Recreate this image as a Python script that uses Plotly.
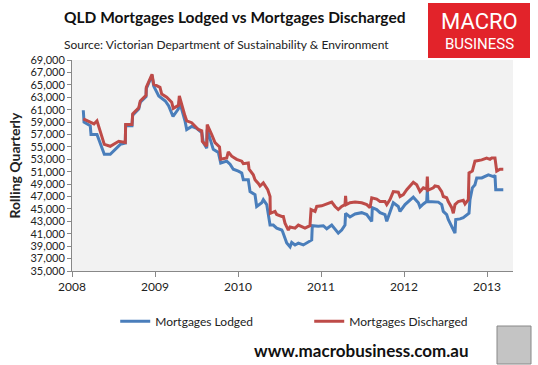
import plotly.graph_objects as go

# decimal-year positions and values
lodged_t = [2008.136, 2008.145, 2008.220, 2008.229, 2008.301, 2008.389, 2008.461, 2008.534, 2008.582, 2008.642,
            2008.646, 2008.723, 2008.731, 2008.804, 2008.823, 2008.892, 2008.895, 2008.964, 2008.984, 2009.045,
            2009.124, 2009.165, 2009.217, 2009.281, 2009.293, 2009.361, 2009.382, 2009.442, 2009.502, 2009.563,
            2009.582, 2009.623, 2009.629, 2009.702, 2009.763, 2009.792, 2009.864, 2009.904, 2009.943, 2010.004,
            2010.045, 2010.064, 2010.124, 2010.145, 2010.205, 2010.225, 2010.286, 2010.305, 2010.346, 2010.386,
            2010.425, 2010.466, 2010.527, 2010.536, 2010.566, 2010.587, 2010.627, 2010.647, 2010.687, 2010.727,
            2010.787, 2010.847, 2010.888, 2010.895, 2010.967, 2011.028, 2011.069, 2011.129, 2011.208, 2011.249,
            2011.289, 2011.296, 2011.349, 2011.410, 2011.490, 2011.551, 2011.611, 2011.618, 2011.671, 2011.711,
            2011.771, 2011.792, 2011.831, 2011.871, 2011.931, 2011.952, 2012.012, 2012.052, 2012.112, 2012.173,
            2012.193, 2012.233, 2012.273, 2012.281, 2012.288, 2012.413, 2012.454, 2012.473, 2012.514, 2012.533,
            2012.575, 2012.614, 2012.623, 2012.675, 2012.714, 2012.755, 2012.783, 2012.795, 2012.823, 2012.855,
            2012.876, 2012.936, 2013.016, 2013.077, 2013.096, 2013.105, 2013.196]
lodged_v = [60900, 59000, 58400, 57000, 57000, 53800, 53800, 54700, 55400, 55600,
            58400, 58400, 60100, 61100, 62200, 63100, 64400, 66500, 64800, 63200,
            62400, 61600, 59900, 61100, 62400, 59200, 57800, 58300, 58000, 57300,
            55700, 54800, 57800, 54600, 54100, 52400, 52700, 52200, 51400, 51100,
            50800, 49700, 49700, 47800, 47300, 45400, 46000, 46500, 45700, 42400,
            42400, 41900, 41600, 41400, 40300, 39500, 38900, 39600, 39200, 39500,
            39200, 39700, 40000, 42300, 42200, 42300, 41800, 42400, 41100, 41600,
            42400, 44300, 43700, 44200, 44400, 44100, 43000, 45200, 44900, 44400,
            44100, 43000, 44400, 46000, 45400, 44600, 45700, 46200, 46900, 46000,
            45300, 45800, 46200, 48100, 46200, 46100, 45700, 44600, 44100, 43300,
            42200, 41100, 43300, 43400, 43600, 44100, 44300, 46500, 48400, 48900,
            50000, 50000, 50500, 50200, 50400, 48100, 48100]

disch_t = [2008.136, 2008.220, 2008.265, 2008.301, 2008.389, 2008.461, 2008.563, 2008.642, 2008.646, 2008.723,
           2008.731, 2008.783, 2008.804, 2008.823, 2008.892, 2008.895, 2008.964, 2008.984, 2009.060, 2009.081,
           2009.141, 2009.201, 2009.220, 2009.283, 2009.293, 2009.361, 2009.382, 2009.442, 2009.522, 2009.563,
           2009.570, 2009.623, 2009.629, 2009.683, 2009.723, 2009.777, 2009.792, 2009.864, 2009.883, 2009.924,
           2009.984, 2010.045, 2010.064, 2010.124, 2010.133, 2010.184, 2010.205, 2010.245, 2010.265, 2010.305,
           2010.358, 2010.386, 2010.389, 2010.446, 2010.466, 2010.527, 2010.546, 2010.566, 2010.606, 2010.627,
           2010.687, 2010.727, 2010.767, 2010.807, 2010.867, 2010.880, 2010.928, 2010.948, 2011.008, 2011.048,
           2011.088, 2011.129, 2011.169, 2011.208, 2011.249, 2011.289, 2011.296, 2011.304, 2011.349, 2011.410,
           2011.490, 2011.551, 2011.590, 2011.611, 2011.671, 2011.711, 2011.771, 2011.792, 2011.831, 2011.871,
           2011.931, 2011.952, 2011.992, 2012.033, 2012.112, 2012.153, 2012.193, 2012.233, 2012.273, 2012.281,
           2012.288, 2012.353, 2012.373, 2012.413, 2012.454, 2012.473, 2012.514, 2012.533, 2012.575, 2012.594,
           2012.614, 2012.654, 2012.714, 2012.735, 2012.775, 2012.783, 2012.823, 2012.855, 2012.936, 2012.996,
           2013.036, 2013.057, 2013.096, 2013.117, 2013.157, 2013.196]
disch_v = [59500, 58900, 58700, 59200, 55400, 55100, 55900, 55700, 58600, 58600,
           60300, 61000, 61300, 62400, 63300, 64600, 66700, 65100, 64600, 63500,
           63000, 62200, 61200, 61700, 63200, 60000, 59200, 58900, 57800, 57600,
           55900, 55100, 58600, 57000, 55700, 55000, 53000, 53200, 54200, 53500,
           53000, 52700, 52300, 52400, 51400, 50500, 49700, 49100, 48700, 49200,
           48100, 47000, 44300, 44600, 44100, 43800, 43800, 42700, 41600, 42100,
           41900, 42400, 42200, 41900, 42300, 44900, 44600, 45400, 45500, 45700,
           45800, 46100, 45400, 44900, 45400, 45700, 47100, 45700, 46000, 46100,
           46000, 45700, 45200, 46800, 46600, 46200, 46200, 45700, 46500, 47800,
           47700, 47000, 47300, 48100, 49300, 48900, 47800, 48400, 48200, 50200,
           48000, 48400, 48700, 48600, 47800, 47000, 46800, 46200, 45200, 44300,
           45700, 46200, 46400, 45800, 46500, 50800, 51100, 52700, 52900, 53200,
           53000, 53200, 53200, 51100, 51400, 51400]

year_ticks = [2008, 2009, 2010, 2011, 2012, 2013]
y_ticks = list(range(35000, 69001, 2000))

BLUE = "#4a7ebb"
RED = "#be4b48"
FONT = "Lato"

fig = go.Figure()
fig.add_trace(go.Scatter(x=lodged_t, y=lodged_v, mode="lines", name="Mortgages Lodged",
                         line=dict(color=BLUE, width=3)))
fig.add_trace(go.Scatter(x=disch_t, y=disch_v, mode="lines", name="Mortgages Discharged",
                         line=dict(color=RED, width=3)))

fig.update_layout(
    width=538, height=365,
    margin=dict(l=72, r=25, t=60, b=94),
    paper_bgcolor="white",
    plot_bgcolor="#f2f2f2",
    font=dict(family=FONT, size=11, color="#222"),
    showlegend=True,
    legend=dict(orientation="h", x=0.098, y=-0.17, xanchor="left", yanchor="top",
                font=dict(family=FONT, size=12, color="#222"), itemwidth=30,
                entrywidth=149, bgcolor="rgba(0,0,0,0)"),
    xaxis=dict(range=[2008, 2013.313], tickvals=year_ticks, ticktext=[str(t) for t in year_ticks],
               showgrid=False, zeroline=False, showline=True, linecolor="#888", linewidth=1,
               ticks="outside", ticklen=5, tickcolor="#888", tickfont=dict(size=12, color="#222")),
    yaxis=dict(range=[35000, 69000], tickvals=y_ticks, tickformat=",d",
               showgrid=False, zeroline=False, showline=True, linecolor="#888", linewidth=1,
               ticks="outside", ticklen=4, tickcolor="#888", tickfont=dict(size=11, color="#222"),
               title=dict(text="<b>Rolling Quarterly</b>", font=dict(size=14, color="#222"), standoff=6)),
)

fig.add_annotation(text="<b>QLD Mortgages Lodged vs Mortgages Discharged</b>", xref="paper", yref="paper",
                   x=(62 - 72) / 441, y=1 + (60 - 17) / 211, xanchor="left", yanchor="middle",
                   showarrow=False, font=dict(family=FONT, size=15.5, color="#111"))
fig.add_annotation(text="Source: Victorian Department of Sustainability & Environment", xref="paper", yref="paper",
                   x=(62 - 72) / 441, y=1 + (60 - 44) / 211, xanchor="left", yanchor="middle",
                   showarrow=False, font=dict(family=FONT, size=12, color="#222"))

# logo box
fig.add_shape(type="rect", xref="paper", yref="paper",
              x0=(428 - 72) / 441, x1=(530 - 72) / 441, y0=1 + (60 - 58) / 211, y1=1 + (60 - 3) / 211,
              fillcolor="#e2232a", line=dict(width=0))
fig.add_annotation(text="MACRO", xref="paper", yref="paper", x=(479 - 72) / 441, y=1 + (60 - 22) / 211,
                   xanchor="center", yanchor="middle", showarrow=False,
                   font=dict(family="Roboto", size=22, color="white"))
fig.add_annotation(text="BUSINESS", xref="paper", yref="paper", x=(479 - 72) / 441, y=1 + (60 - 44) / 211,
                   xanchor="center", yanchor="middle", showarrow=False,
                   font=dict(family="Roboto", size=15, color="white"))

# footer
fig.add_annotation(text="<b>www.macrobusiness.com.au</b>", xref="paper", yref="paper",
                   x=(361 - 72) / 441, y=-(350 - 271) / 211, xanchor="center", yanchor="middle",
                   showarrow=False, font=dict(family=FONT, size=17, color="#111"))
fig.add_shape(type="rect", xref="paper", yref="paper",
              x0=(497 - 72) / 441, x1=(531 - 72) / 441, y0=-(364 - 271) / 211, y1=-(326 - 271) / 211,
              fillcolor="#c4c4c4", line=dict(color="#888", width=1))

fig.write_html("out.html", config={"displayModeBar": False},
               post_script="document.body.style.margin='0';document.body.style.overflow='hidden';")
